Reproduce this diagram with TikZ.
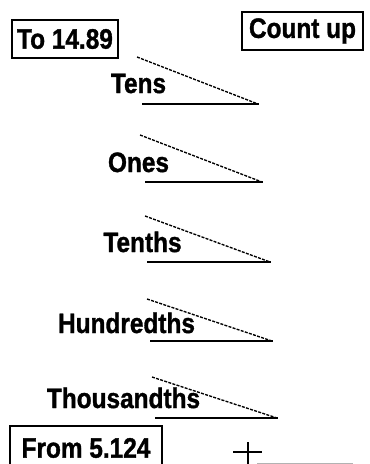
\documentclass[tikz,border=0pt]{standalone}
\usepackage{fontspec}
\newfontfamily\lblfont{Liberation Sans Bold}[FakeBold=1.3]
\newcommand{\lbl}[1]{\scalebox{1}[1.15]{#1}}
\tikzset{
  lab/.style={font=\fontsize{24.4}{28}\lblfont, inner sep=0pt, anchor=base},
  boxlab/.style={font=\fontsize{24.4}{28}\lblfont, draw, line width=1.3pt, inner sep=0pt},
  dashline/.style={line width=1.35pt, dash pattern=on 3pt off 1.3pt},
  solidline/.style={line width=1.5pt},
}
\begin{document}
\begin{tikzpicture}[x=1pt,y=-1pt]
\useasboundingbox (0,0) rectangle (370,464);
\clip (0,0) rectangle (370,464);
% boxes
\node[boxlab, minimum width=106pt, minimum height=38pt] (to) at (65,39) {\lbl{To 14.89}};
\node[boxlab, minimum width=121pt, minimum height=38pt] (count) at (302.5,31) {\lbl{Count up}};
\node[boxlab, minimum width=152pt, minimum height=44pt] (from) at (86,448) {\lbl{From 5.124}};
% rows
\foreach \name/\txt/\tx/\ty/\dx/\dy/\sx/\ex/\ey in {
  tens/Tens/138.5/93/137/57/142/258/104,
  ones/Ones/138.5/172/140/135/145/262/182,
  tenths/Tenths/142.5/252/145/216/147/270/262,
  hund/Hundredths/126.5/333/147/299/150/272/341,
  thou/Thousandths/123.5/408/152/377/155/277/418}{
  \coordinate (\name-d) at (\dx,\dy);
  \coordinate (\name-s) at (\sx,\ey);
  \coordinate (\name-e) at (\ex,\ey);
  \draw[dashline] (\name-d) -- (\name-e);
  \draw[solidline] (\name-s) -- (\name-e);
  \fill ([xshift=-3pt,yshift=-1.3pt]\name-e) rectangle ([xshift=0.5pt,yshift=1.3pt]\name-e);
  \node[lab] (\name) at (\tx,\ty) {\lbl{\txt}};
}
% plus sign and bottom line
\coordinate (pl) at (233,452);
\coordinate (pr) at (262,452);
\coordinate (pt) at (248,442);
\coordinate (pb) at (248,470);
\draw[line width=1.1pt] (pl) -- (pr);
\draw[line width=1.1pt] (pt) -- (pb);
\coordinate (bl) at (257,463);
\coordinate (br) at (353,463);
\draw[line width=1pt, gray!60] (bl) -- (br);
\end{tikzpicture}
\end{document}
